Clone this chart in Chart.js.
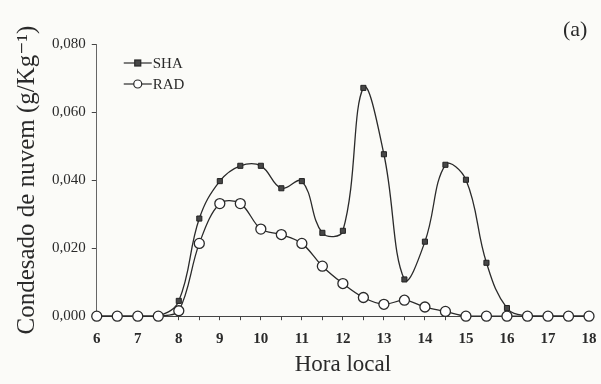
<!DOCTYPE html>
<html>
<head>
<meta charset="utf-8">
<script src="https://cdn.jsdelivr.net/npm/chart.js@4.4.0/dist/chart.umd.min.js"></script>
<style>
  html, body { margin: 0; padding: 0; background: #fbfbf8; }
  #wrap { position: relative; width: 601px; height: 384px; }
</style>
</head>
<body>
<div id="wrap"><canvas id="myChart" width="601" height="384"></canvas></div>
<script>
// hora local, a cada meia hora
const horas = [6, 6.5, 7, 7.5, 8, 8.5, 9, 9.5, 10, 10.5, 11, 11.5, 12, 12.5,
               13, 13.5, 14, 14.5, 15, 15.5, 16, 16.5, 17, 17.5, 18];

const sha = [0, 0, 0, 0, 0.0045, 0.0287, 0.0397, 0.0442, 0.0442, 0.0376, 0.0397, 0.0245, 0.0251, 0.0671,
             0.0476, 0.0108, 0.0219, 0.0445, 0.0401, 0.0157, 0.0024, 0, 0, 0, 0];

const rad = [0, 0, 0, 0, 0.0016, 0.0214, 0.0331, 0.0331, 0.0256, 0.0240, 0.0214, 0.0147, 0.0096, 0.0055,
             0.0035, 0.0047, 0.0027, 0.0014, 0, 0, 0, 0, 0, 0, 0];

const yTicks = [0, 0.02, 0.04, 0.06, 0.08];

const serif = "'Liberation Serif', 'DejaVu Serif', serif";
const ink = '#2a2a2a';

function pts(ys) {
    return horas.map((h, i) => ({ x: h, y: ys[i] }));
}

// legenda dentro da area do grafico e o rotulo (a)
const extras = {
    id: 'extras',
    afterDraw(chart) {
        const ctx = chart.ctx;
        const left = chart.chartArea.left;
        const top = chart.chartArea.top;
        ctx.save();
        ctx.strokeStyle = ink;
        ctx.lineWidth = 1.2;
        ctx.font = '15px ' + serif;
        ctx.fillStyle = ink;
        ctx.textBaseline = 'middle';

        let y = top + 19;
        ctx.beginPath(); ctx.moveTo(left + 27, y); ctx.lineTo(left + 55, y); ctx.stroke();
        ctx.fillStyle = '#474747';
        ctx.fillRect(left + 38, y - 3, 6, 6);
        ctx.strokeRect(left + 38, y - 3, 6, 6);
        ctx.fillStyle = ink;
        ctx.fillText('SHA', left + 56, y + 1);

        y = top + 40;
        ctx.beginPath(); ctx.moveTo(left + 27, y); ctx.lineTo(left + 55, y); ctx.stroke();
        ctx.beginPath(); ctx.arc(left + 41, y, 4, 0, Math.PI * 2);
        ctx.fillStyle = '#fff'; ctx.fill(); ctx.stroke();
        ctx.fillStyle = ink;
        ctx.fillText('RAD', left + 56, y + 1);

        ctx.font = '22px ' + serif;
        ctx.textAlign = 'left';
        ctx.fillText('(a)', 563, 30);
        ctx.restore();
    }
};

const ctx = document.getElementById('myChart').getContext('2d');

const chart = new Chart(ctx, {
    type: 'line',
    data: {
        datasets: [{
            label: 'RAD',
            data: pts(rad),
            order: 0,
            clip: false,
            borderColor: ink,
            borderWidth: 1.3,
            tension: 0.35,
            pointStyle: 'circle',
            pointRadius: 5,
            pointBackgroundColor: '#ffffff',
            pointBorderColor: ink,
            pointBorderWidth: 1.3
        }, {
            label: 'SHA',
            data: pts(sha),
            order: 1,
            clip: false,
            borderColor: ink,
            borderWidth: 1.3,
            tension: 0.4,
            pointStyle: 'rect',
            pointRadius: 3.6,
            pointBackgroundColor: '#474747',
            pointBorderColor: '#222',
            pointBorderWidth: 1
        }]
    },
    options: {
        responsive: false,
        animation: false,
        layout: {
            padding: { left: 8, right: 12, top: 44, bottom: 0 }
        },
        plugins: {
            legend: { display: false },
            tooltip: { enabled: false }
        },
        scales: {
            x: {
                type: 'linear',
                min: 6,
                max: 18,
                // o rotulo "18" nao deve empurrar a borda direita
                afterFit: s => { s.paddingRight = 12; s.paddingLeft = 0; },
                border: { display: true, color: '#444', width: 1 },
                grid: {
                    drawOnChartArea: false,
                    drawTicks: true,
                    tickLength: 4,
                    tickColor: '#444'
                },
                ticks: {
                    stepSize: 0.5,
                    autoSkip: false,
                    maxRotation: 0,
                    color: ink,
                    padding: 10,
                    font: { family: serif, size: 15, weight: 'bold' },
                    callback: v => Number.isInteger(v) ? String(v) : ''
                },
                title: {
                    display: true,
                    text: 'Hora local',
                    color: ink,
                    font: { family: serif, size: 23, lineHeight: 0.6 },
                    padding: { top: 0, bottom: 12 }
                }
            },
            y: {
                min: 0,
                max: 0.08,
                afterBuildTicks: axis => {
                    axis.ticks = yTicks.map(v => ({ value: v }));
                },
                border: { display: true, color: '#666', width: 1 },
                grid: {
                    drawOnChartArea: false,
                    drawTicks: true,
                    tickLength: 5,
                    tickColor: '#444'
                },
                ticks: {
                    color: ink,
                    padding: 6,
                    font: { family: serif, size: 15 },
                    callback: v => v.toFixed(3).replace('.', ',')
                },
                title: {
                    display: true,
                    text: 'Condesado de nuvem (g/Kg⁻¹)',
                    color: ink,
                    font: { family: serif, size: 25 },
                    padding: { top: 4, bottom: 4 }
                }
            }
        }
    },
    plugins: [extras]
});
</script>
</body>
</html>
